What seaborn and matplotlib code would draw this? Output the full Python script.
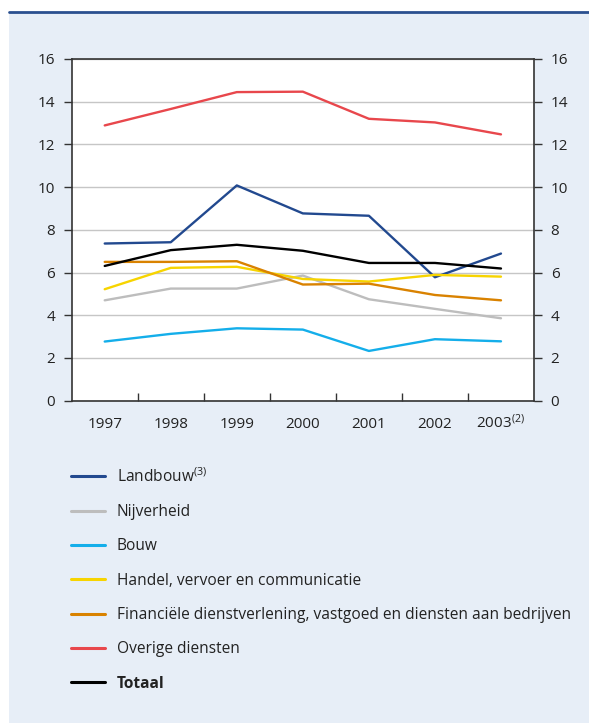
import numpy as np
import pandas as pd
import matplotlib
matplotlib.use("Agg")
import matplotlib.pyplot as plt
import seaborn as sns
from matplotlib.patches import Rectangle
from matplotlib.lines import Line2D
from matplotlib.ticker import FixedLocator

years = ["1997", "1998", "1999", "2000", "2001", "2002", "2003"]
year_labels = ["1997", "1998", "1999", "2000", "2001", "2002", "2003$^{(2)}$"]

landbouw = [7.36, 7.42, 10.08, 8.77, 8.66, 5.78, 6.89]
nijverheid = [4.70, 5.25, 5.25, 5.86, 4.75, 4.30, 3.86]
bouw = [2.77, 3.13, 3.39, 3.33, 2.33, 2.88, 2.78]
handel = [5.22, 6.22, 6.27, 5.70, 5.58, 5.89, 5.81]
financieel = [6.50, 6.50, 6.53, 5.44, 5.48, 4.95, 4.70]
overige = [12.89, 13.66, 14.45, 14.47, 13.20, 13.03, 12.47]
totaal = [6.31, 7.05, 7.30, 7.02, 6.45, 6.45, 6.19]

names = ["Landbouw$^{(3)}$", "Nijverheid", "Bouw",
         "Handel, vervoer en communicatie",
         "Financiële dienstverlening, vastgoed en diensten aan bedrijven",
         "Overige diensten", "Totaal"]
series = [landbouw, nijverheid, bouw, handel, financieel, overige, totaal]
colors = ["#22498f", "#bdbdbd", "#14aeea", "#f7d400", "#d98200", "#e8474c", "#000000"]

rows = []
for name, vals in zip(names, series):
    for yr, v in zip(years, vals):
        rows.append({"jaar": yr, "waarde": v, "sector": name})
df = pd.DataFrame(rows)

sns.set_style("white")
plt.rcParams["font.family"] = ["Open Sans", "DejaVu Sans"]
plt.rcParams["mathtext.default"] = "regular"

fig = plt.figure(figsize=(5.89, 7.23), dpi=100)
fig.patches.append(Rectangle((9 / 589, 0), 1, 1 - 12 / 723, transform=fig.transFigure,
                             facecolor="#e7eef7", edgecolor="none", zorder=-10))
fig.lines.append(Line2D([9 / 589, 1], [1 - 12 / 723] * 2, transform=fig.transFigure,
                        color="#2a4f8f", lw=2.0))

ax = fig.add_axes([71.7 / 589, 1 - 400.7 / 723, (534 - 71.7) / 589, (400.7 - 59) / 723])
ax.set_facecolor("white")

sns.lineplot(data=df, x="jaar", y="waarde", hue="sector", palette=dict(zip(names, colors)),
             linewidth=1.7, ax=ax, legend=False, sort=False)

ax.set_xlim(-0.5, 6.5)
ax.set_ylim(0, 16)
ax.set_yticks(np.arange(0, 17, 2))
ax.set_xticks(range(7))
ax.set_xticklabels(year_labels)
ax.xaxis.set_minor_locator(FixedLocator(np.arange(0.5, 6, 1)))
ax.set_xlabel("")
ax.set_ylabel("")
ax.grid(axis="y", color="#c6c6c6", lw=1.0)
ax.set_axisbelow(True)

for s in ax.spines.values():
    s.set_color("#333333")
    s.set_linewidth(1.2)

ax.tick_params(axis="y", which="major", direction="out", length=6, width=1,
               color="#333333", labelsize=11, labelcolor="#222222",
               left=True, right=True, labelleft=True, labelright=True, pad=6)
ax.tick_params(axis="x", which="major", length=0, labelsize=11, labelcolor="#222222", pad=20)
ax.tick_params(axis="x", which="minor", direction="in", length=6, width=1, color="#333333",
               bottom=True)
plt.setp(ax.get_xticklabels(), va="baseline")

handles = [Line2D([], [], color=c, lw=2.2) for c in colors]
leg = fig.legend(handles, names, loc="upper left", bbox_to_anchor=(71 / 589, 1 - 467 / 723),
                 bbox_transform=fig.transFigure, frameon=False, fontsize=11.2,
                 handlelength=2.2, handletextpad=0.75, labelspacing=1.18, borderpad=0,
                 borderaxespad=0)
for t in leg.get_texts():
    t.set_color("#222222")
leg.get_texts()[-1].set_fontweight("bold")

fig.savefig("out.png", dpi=100)
